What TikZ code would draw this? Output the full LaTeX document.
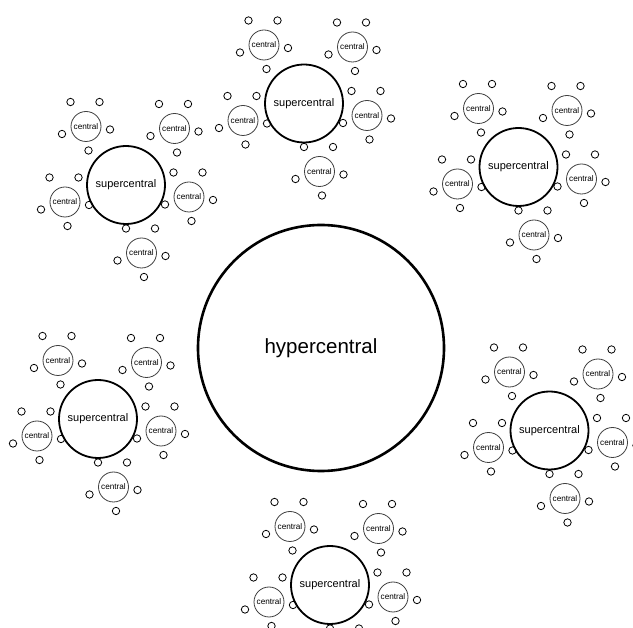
\documentclass[tikz,border=0pt]{standalone}
\usepackage{fontspec}
\setmainfont{Liberation Sans}
\usepackage{tikz}
\tikzset{
  hypernode/.style={circle, draw=black, line width=2.6pt, minimum size=246pt,
                    inner sep=0pt, font=\fontsize{20.5}{24}\selectfont},
  supernode/.style={circle, draw=black, line width=1.8pt, minimum size=78pt,
                    inner sep=0pt, font=\fontsize{11}{13}\selectfont},
  centralnode/.style={circle, draw=black!75, line width=0.8pt, minimum size=30pt,
                      inner sep=0pt, font=\fontsize{8.2}{9}\selectfont},
  leafnode/.style={circle, draw=black, line width=0.8pt, minimum size=7.4pt,
                   inner sep=0pt},
}
% one supercentral with its five centrals and their five leaves
\newcommand{\supercluster}[3]{%
  \node[supernode] (#1) at (#2,#3) {supercentral};
  \foreach \cx/\cy [count=\i] in {-40/-58.5, 48.5/-56.5, 63/12, 15.5/68, -61/17} {
    \node[centralnode] (#1-c\i) at ([shift={(\cx,\cy)}]#1) {central};
    \foreach \tx/\ty [count=\j] in {-15.5/-24.5, 13.5/-24.5, 24/3, -24/7.5, 2.5/24}
      \node[leafnode] (#1-c\i-l\j) at ([shift={(\tx,\ty)}]#1-c\i) {};
  }%
}

\begin{document}
\begin{tikzpicture}[x=1pt, y=-1pt]
    \useasboundingbox (0,0) rectangle (633,628);
    \fill[white] (0,0) rectangle (633,628);
    \clip (0,0) rectangle (633,628);
    \node[hypernode] (hyper) at (321,348) {hypercentral};
    \supercluster{top}{304}{103.5}
    \supercluster{topleft}{126}{185}
    \supercluster{topright}{518.5}{167}
    \supercluster{left}{98}{419}
    \supercluster{right}{549.5}{430.5}
    \supercluster{bottom}{330}{585}
  \end{tikzpicture}
\end{document}
